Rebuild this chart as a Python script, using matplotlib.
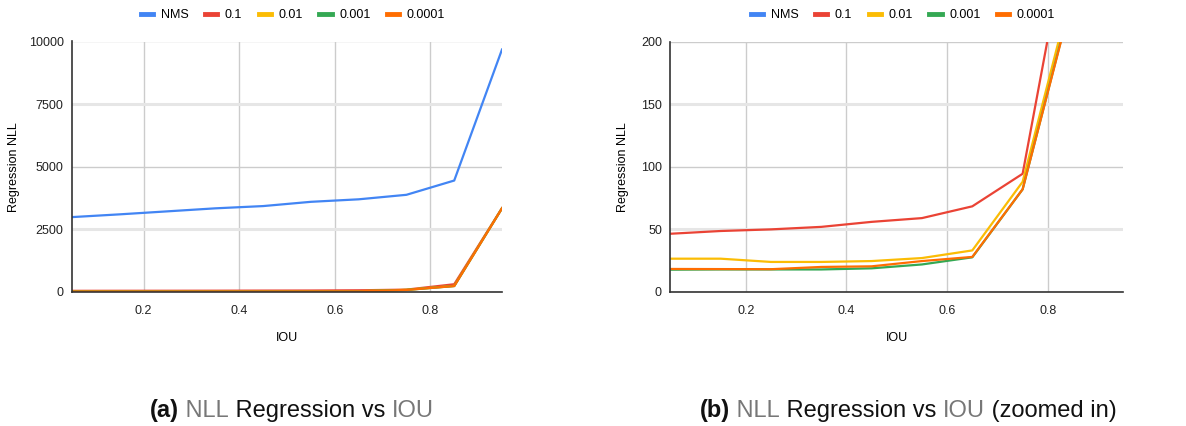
import matplotlib
matplotlib.use("Agg")
import matplotlib.pyplot as plt
from matplotlib.lines import Line2D

plt.rcParams['font.family'] = ['Liberation Sans', 'DejaVu Sans']

iou = [0.05, 0.15, 0.25, 0.35, 0.45, 0.55, 0.65, 0.75, 0.85, 0.95]
series_names = ["NMS", "0.1", "0.01", "0.001", "0.0001"]
nms = [2990, 3100, 3220, 3340, 3430, 3600, 3700, 3880, 4450, 9680]
s_01 = [46.5, 48.7, 50.0, 52.0, 56.0, 59.0, 68.4, 94.4, 310, 3350]
s_001 = [26.6, 26.6, 24.0, 24.0, 24.7, 27.1, 33.2, 88.0, 245, 3345]
s_0001 = [17.8, 18.0, 18.0, 18.0, 18.9, 22.0, 27.7, 82.0, 238, 3340]
s_00001 = [18.4, 18.3, 18.2, 20.0, 20.5, 24.7, 28.0, 82.0, 237, 3340]
colors = ["#4285F4", "#EA4335", "#FBBC04", "#34A853", "#FF6D01"]

left_yticks = [0, 2500, 5000, 7500, 10000]
right_yticks = [0, 50, 100, 150, 200]
xticks = [0.2, 0.4, 0.6, 0.8]

fig = plt.figure(figsize=(11.86, 4.26), dpi=100)
ax1 = fig.add_axes([72/1186, 1-292/426, 430/1186, 250.5/426])
ax2 = fig.add_axes([670.3/1186, 1-292/426, 453/1186, 250.5/426])

all_series = [nms, s_01, s_001, s_0001, s_00001]

def style(ax, yticks, ylab_x):
    ax.set_xlim(0.05, 0.95)
    ax.set_ylim(yticks[0], yticks[-1])
    ax.set_xticks(xticks)
    ax.set_xticklabels([f"{t:.1f}" for t in xticks])
    ax.set_yticks(yticks)
    ax.set_yticklabels([str(t) for t in yticks])
    ax.tick_params(length=0, labelsize=9, colors="#222222")
    ax.tick_params(axis='x', pad=9)
    ax.tick_params(axis='y', pad=6)
    for t in xticks:
        ax.axvline(t, color="#cccccc", lw=1, zorder=0)
    for i, t in enumerate(yticks):
        if i % 2 == 1:
            ax.axhline(t, color="#e6e6e6", lw=2.2, zorder=0)
        else:
            ax.axhline(t, color="#cccccc", lw=1, zorder=0)
    for s in ["top", "right"]:
        ax.spines[s].set_visible(False)
    for s in ["left", "bottom"]:
        ax.spines[s].set_color("#333333")
        ax.spines[s].set_linewidth(1.2)
        ax.spines[s].set_zorder(3)
    ax.set_ylabel("Regression NLL", fontsize=9, va="center")
    ax.yaxis.set_label_coords(ylab_x, 0.5)
    ax.set_xlabel("IOU", fontsize=9, va="center")
    ax.xaxis.set_label_coords(0.5, (292 - 338) / 250.5)

style(ax1, left_yticks, (14 - 72) / 430)
style(ax2, right_yticks, (623 - 670.3) / 453)

for ax in (ax1, ax2):
    for vals, c, name in zip(all_series, colors, series_names):
        if ax is ax2 and name == "NMS":
            continue
        ax.plot(iou, vals, color=c, lw=1.6, zorder=2)

handles = [Line2D([0], [0], color=c, lw=3.5) for c in colors]
for cx in [293/1186, 903/1186]:
    fig.legend(handles, series_names, loc="center", bbox_to_anchor=(cx, 1-15/426),
               ncol=5, frameon=False, fontsize=9, handlelength=1.0, handletextpad=0.6,
               columnspacing=1.3)

# captions
fig.canvas.draw()
renderer = fig.canvas.get_renderer()

def caption(cx, y, pieces):
    texts = []
    for s, color, weight in pieces:
        t = fig.text(0, y, s, color=color, fontweight=weight, fontsize=17,
                     ha="left", va="center", family=['Liberation Sans', 'DejaVu Sans'])
        texts.append(t)
    widths = [t.get_window_extent(renderer).width for t in texts]
    total = sum(widths)
    x = cx * fig.bbox.width - total / 2
    for t, w in zip(texts, widths):
        t.set_x(x / fig.bbox.width)
        x += w

gray = "#777777"
black = "#111111"
caption(292/1186, 1-411/426, [("(a)", black, "bold"), (" NLL", gray, "normal"),
                               (" Regression vs ", black, "normal"), ("IOU", gray, "normal")])
caption(908/1186, 1-411/426, [("(b)", black, "bold"), (" NLL", gray, "normal"),
                               (" Regression vs ", black, "normal"), ("IOU", gray, "normal"),
                               (" (zoomed in)", black, "normal")])

fig.savefig("out.png", dpi=100)
